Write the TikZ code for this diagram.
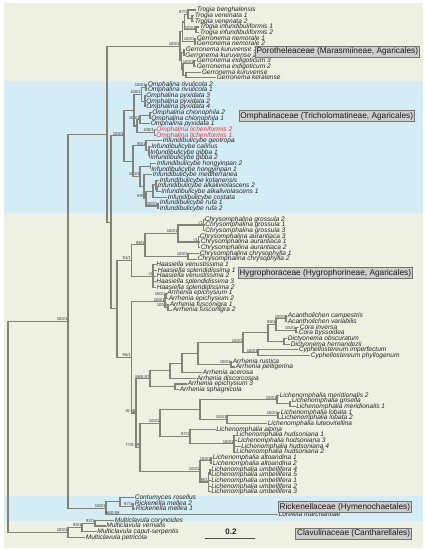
\documentclass[tikz,border=0pt]{standalone}
\usepackage{fontspec}
\setmainfont{Liberation Sans}
\usetikzlibrary{calc}
\definecolor{panelbeige}{RGB}{238,240,226}
\definecolor{panelblue}{RGB}{212,236,246}
\definecolor{branchgrey}{RGB}{128,131,118}
\definecolor{famfill}{RGB}{206,206,204}
\definecolor{licred}{RGB}{232,56,60}
\tikzset{
  branch/.style={draw=branchgrey, line width=1.1pt},
  taxon/.style={anchor=west, inner xsep=0.6pt, inner ysep=0pt, text height=4.6pt, text depth=1pt, font=\fontsize{6.6}{6.6}\selectfont\itshape, text=black!85},
  newtaxon/.style={taxon, text=licred},
  support/.style={anchor=south east, inner sep=0.4pt, font=\fontsize{4.2}{4.2}\selectfont, text=black!80},
  famlabel/.style={draw=black!55, fill=famfill, line width=0.6pt, inner xsep=1.6pt, inner ysep=1.5pt, anchor=east, font=\fontsize{8.3}{8.3}\selectfont, text=black!90},
}
% [extra children]{name}{x}{first child}{last child}{support}
\newcommand\clade[6][]{%
  \path let \p1=(#4), \p2=(#5) in coordinate (#2) at (#3pt,{0.5*\y1+0.5*\y2});
  \draw[branch] (#4) -| (#2) |- (#5);
  \if\relax\detokenize{#1}\relax\else
    \foreach \c in {#1} {\draw[branch] (#2) |- (\c);}%
  \fi
  \if\relax\detokenize{#6}\relax\else
    \node[support] (#2-s) at (#2) {#6};%
  \fi}

\begin{document}
\begin{tikzpicture}[x=1pt, y=-1pt]
\useasboundingbox (0,0) rectangle (425,550);
% panels
\fill[panelbeige] (4,3) rectangle (423,548);
\fill[panelblue] (4,81) rectangle (423,212.7);
\fill[panelblue] (4,496) rectangle (423,520.7);

% taxa
\foreach \i/\x/\t in {1/196/Trogia benghalensis, 2/194/Trogia venenata 1, 3/194/Trogia venenata 2,
  4/199/Trogia infundibuliformis 1, 5/199/Trogia infundibuliformis 2, 6/196/Gerronema nemorale 1,
  7/196/Gerronema nemorale 2, 8/185/Gerronema kuruvense 1, 9/184.5/Gerronema kuruvense 2,
  10/196/Gerronema indigoticum 3, 11/196/Gerronema indigoticum 2, 12/201/Gerronema kuruvense,
  13/216/Gerronema keralense}
  {\pgfmathsetmacro\yy{10+(\i-1)*5.66}
   \node[taxon] (L\i) at (\x,\yy) {\t};}
\foreach \i/\x/\t/\s in {14/147/Omphalina rivulicola 2/taxon, 15/147/Omphalina rivulicola 1/taxon,
  16/145.5/Omphalina pyxidata 3/taxon, 17/145.5/Omphalina pyxidata 2/taxon, 18/145.5/Omphalina pyxidata 4/taxon,
  19/151.5/Omphalina chionophila 2/taxon, 20/150.5/Omphalina chionophila 1/taxon, 21/150/Omphalina pyxidata 1/taxon,
  22/155.5/Omphalina licheniformis 2/newtaxon, 23/155.5/Omphalina licheniformis 1/newtaxon,
  24/162/Infundibulicybe geotropa/taxon, 25/150.5/Infundibulicybe calinus/taxon,
  26/149.5/Infundibulicybe gibba 1/taxon, 27/149.5/Infundibulicybe gibba 2/taxon,
  28/156/Infundibulicybe hongyinpan 2/taxon, 29/150.5/Infundibulicybe hongyinpan 1/taxon,
  30/152/Infundibulicybe mediterranea/taxon, 31/159/Infundibulicybe kotanensis/taxon,
  32/157/Infundibulicybe alkaliviolascens 2/taxon, 33/160.5/Infundibulicybe alkaliviolascens 1/taxon,
  34/167/Infundibulicybe costata/taxon, 35/159/Infundibulicybe rufa 1/taxon, 36/159/Infundibulicybe rufa 2/taxon}
  {\pgfmathsetmacro\yy{84.3+(\i-14)*5.66}
   \node[\s] (L\i) at (\x,\yy) {\t};}
\foreach \i/\x/\t in {37/204/Chrysomphalina grossula 2, 38/204.5/Chrysomphalina grossula 1,
  39/204.5/Chrysomphalina grossula 3, 40/199/Chrysomphalina aurantiaca 3, 41/200/Chrysomphalina aurantiaca 1,
  42/200/Chrysomphalina aurantiaca 2, 43/199/Chrysomphalina chrysophylla 1, 44/197/Chrysomphalina chrysophylla 2,
  45/155.5/Haasiella venustissima 1, 46/157/Haasiella splendidissima 1, 47/156/Haasiella venustissima 2,
  48/155.5/Haasiella splendidissima 3, 49/156/Haasiella splendidissima 2,
  50/166.5/Arrhenia epichysium 1, 51/168/Arrhenia epichysium 2, 52/169/Arrhenia fusconigra 1,
  53/172/Arrhenia fusconigra 2, 54/287/Acantholichen campestris, 55/287/Acantholichen variabilis,
  56/299/Cora inversa, 57/298/Cora byssoidea, 58/287/Dictyonema obscuratum, 59/290/Dictyonema hernandezii,
  60/298/Cyphellostereum imperfectum, 61/310/Cyphellostereum phyllogenum,
  62/232/Arrhenia rustica, 63/235/Arrhenia peltigerina, 64/202/Arrhenia acerosa,
  65/196/Arrhenia discorcosea, 66/187/Arrhenia epichysium 3, 67/179/Arrhenia sphagnicola,
  68/279/Lichenomphalia meridionalis 2, 69/291/Lichenomphalia grisella, 70/295.5/Lichenomphalia meridionalis 1,
  71/280/Lichenomphalia lobata 1, 72/280.5/Lichenomphalia lobata 2, 73/267/Lichenomphalia luteovitellina,
  74/215.5/Lichenomphalia alpina, 75/235.5/Lichenomphalia hudsoniana 1, 76/237/Lichenomphalia hudsoniana 3,
  77/240.5/Lichenomphalia hudsoniana 4, 78/235.5/Lichenomphalia hudsoniana 2,
  79/212/Lichenomphalia altoandina 1, 80/212/Lichenomphalia altoandina 2,
  81/210.5/Lichenomphalia umbellifera 4, 82/210.5/Lichenomphalia umbellifera 5,
  83/210.5/Lichenomphalia umbellifera 1, 84/210.5/Lichenomphalia umbellifera 2,
  85/210.5/Lichenomphalia umbellifera 3,
  86/134/Contumyces rosellus, 87/134/Rickenella mellea 2, 88/135/Rickenella mellea 1,
  89/278/Loreleia marchantiae,
  90/114/Multiclavula corynoides, 91/105.5/Multiclavula vernalis,
  92/96.5/Multiclavula caput-serpentis, 93/85/Multiclavula petricola}
  {\pgfmathsetmacro\yy{219.3+(\i-37)*5.68}
   \node[taxon] (L\i) at (\x,\yy) {\t};}

% Porotheleaceae
\clade{ven}{192}{L2}{L3}{}
\clade{tb}{188}{L1}{ven}{97/1}
\clade{tinf}{196}{L4}{L5}{100/1}
\clade{trog}{184.5}{tb}{tinf}{}
\clade{nem}{195}{L6}{L7}{100/1}
\clade{tn}{182.5}{trog}{nem}{}
\clade{kur}{184}{L8}{L9}{}
\clade{ind}{194}{L10}{L11}{100/1}
\clade{kk}{186}{L12}{L13}{}
\clade{ikk}{183}{ind}{kk}{}
\clade{low}{181.5}{kur}{ikk}{}
\clade{mar}{180}{tn}{low}{100/1}
% Omphalinaceae
\clade{riv}{146}{L14}{L15}{100/1}
\clade[L17]{pyx}{145}{L16}{L18}{}
\clade{rp}{141.5}{riv}{pyx}{100/1}
\clade{chi}{150}{L19}{L20}{}
\clade{cp}{140}{chi}{L21}{100/1}
\clade{lic}{154.5}{L22}{L23}{100/1}
\clade{cpl}{137}{cp}{lic}{}
\clade{oph}{134}{rp}{cpl}{}
\clade{gib}{149.5}{L26}{L27}{}
\clade{cg}{149}{L25}{gib}{}
\clade{geo}{146}{L24}{cg}{90/1}
\clade{hong}{150.5}{L28}{L29}{}
\clade{alk}{157}{L32}{L33}{}
\clade{ka}{156}{L31}{alk}{}
\clade{kac}{153}{ka}{L34}{}
\clade{ruf}{158}{L35}{L36}{100/1}
\clade{kns}{146}{kac}{ruf}{99/1}
\clade{mk}{144}{L30}{kns}{}
\clade{hm}{140}{hong}{mk}{100/1}
\clade{inf}{133}{geo}{hm}{}
\clade{omp}{124}{oph}{inf}{100/1}
% Hygrophoraceae
\clade[L38]{gro}{203.5}{L37}{L39}{-/1}
\clade[L41]{aur}{198.5}{L40}{L42}{-/1}
\clade{ga}{178}{gro}{aur}{100/1}
\clade{chr}{188}{L43}{L44}{100/1}
\clade{ch}{145}{ga}{chr}{96/1}
\clade[L46,L47,L48]{haa}{153}{L45}{L49}{-/1}
\clade{hnine}{131.5}{ch}{haa}{91/1}
\clade{epi}{166}{L50}{L51}{100/1}
\clade{fus}{168}{L52}{L53}{100/1}
\clade{ef}{165}{epi}{fus}{100/1}
\clade{aca}{286}{L54}{L55}{100/1}
\clade{cor}{296}{L56}{L57}{100/1}
\clade{ac}{276}{aca}{cor}{89/1}
\clade{dic}{284}{L58}{L59}{}
\clade{acd}{268}{ac}{dic}{}
\clade{cyp}{258}{L60}{L61}{100/1}
\clade{lich}{243}{acd}{cyp}{100/1}
\clade{rus}{231}{L62}{L63}{100/1}
\clade{lr}{198}{lich}{rus}{}
\clade{lra}{182}{lr}{L64}{}
\clade{lrd}{170}{lra}{L65}{}
\clade{es}{175}{L66}{L67}{}
\clade{arr}{150}{lrd}{es}{88/0.97}
\clade{gm}{290}{L69}{L70}{}
\clade{mer}{277}{L68}{gm}{100/1}
\clade{lob}{278}{L71}{L72}{100/1}
\clade{ll}{227}{lob}{L73}{100/1}
\clade{ml}{200}{mer}{ll}{}
\clade[L76,L77]{hud}{234}{L75}{L78}{100/1}
\clade{ah}{190}{L74}{hud}{87/1}
\clade{mah}{160}{ml}{ah}{100/1}
\clade{alt}{211}{L79}{L80}{100/1}
\clade{ufour}{210}{L81}{L82}{}
\clade[L83,L84]{umb}{208.5}{ufour}{L85}{99/1}
\clade{au}{200}{alt}{umb}{100/1}
\clade{lphal}{140}{mah}{au}{77/0.99}
\clade{q}{136}{arr}{lphal}{-/0.96}
\clade{hfive}{131.5}{ef}{q}{95/1}
\clade{hyg}{117}{hnine}{hfive}{}
\clade{C}{111}{omp}{hyg}{}
\clade{B}{107}{mar}{C}{}
% Hymenochaetales
\clade{rick}{133}{L87}{L88}{97/1}
\clade{cr}{120}{L86}{rick}{}
\clade{H}{106}{cr}{L89}{100/1}
\node[support] (crs) at (cr |- L89) {96/0.98};
\clade{A}{68}{B}{H}{100/1}
% Cantharellales
\clade{mtwo}{95}{L90}{L91}{92/1}
\clade{mfive}{82}{mtwo}{L92}{95/1}
\clade{mc}{68}{mfive}{L93}{100/1}
\clade{root}{8}{A}{mc}{}

% family labels
\node[famlabel] (poro) at (420,51.5) {Porotheleaceae (Marasmiineae, Agaricales)};
\node[famlabel] (omph) at (415,116) {Omphalinaceae (Tricholomatineae, Agaricales)};
\node[famlabel] (hygr) at (413,273) {Hygrophoraceae (Hygrophorineae, Agaricales)};
\node[famlabel] (rickl) at (412,507) {Rickenellaceae (Hymenochaetales)};
\node[famlabel] (clav) at (412,533.5) {Clavulinaceae (Cantharellales)};

% scale bar
\coordinate (sbl) at (205,538.5);
\coordinate (sbr) at (255,538.5);
\draw[draw=black!70, line width=0.8pt] (sbl) -- (sbr);
\node[font=\fontsize{8}{8}\selectfont\bfseries, text=black!85] (sbt) at (231,531.5) {0.2};
\end{tikzpicture}
\end{document}
